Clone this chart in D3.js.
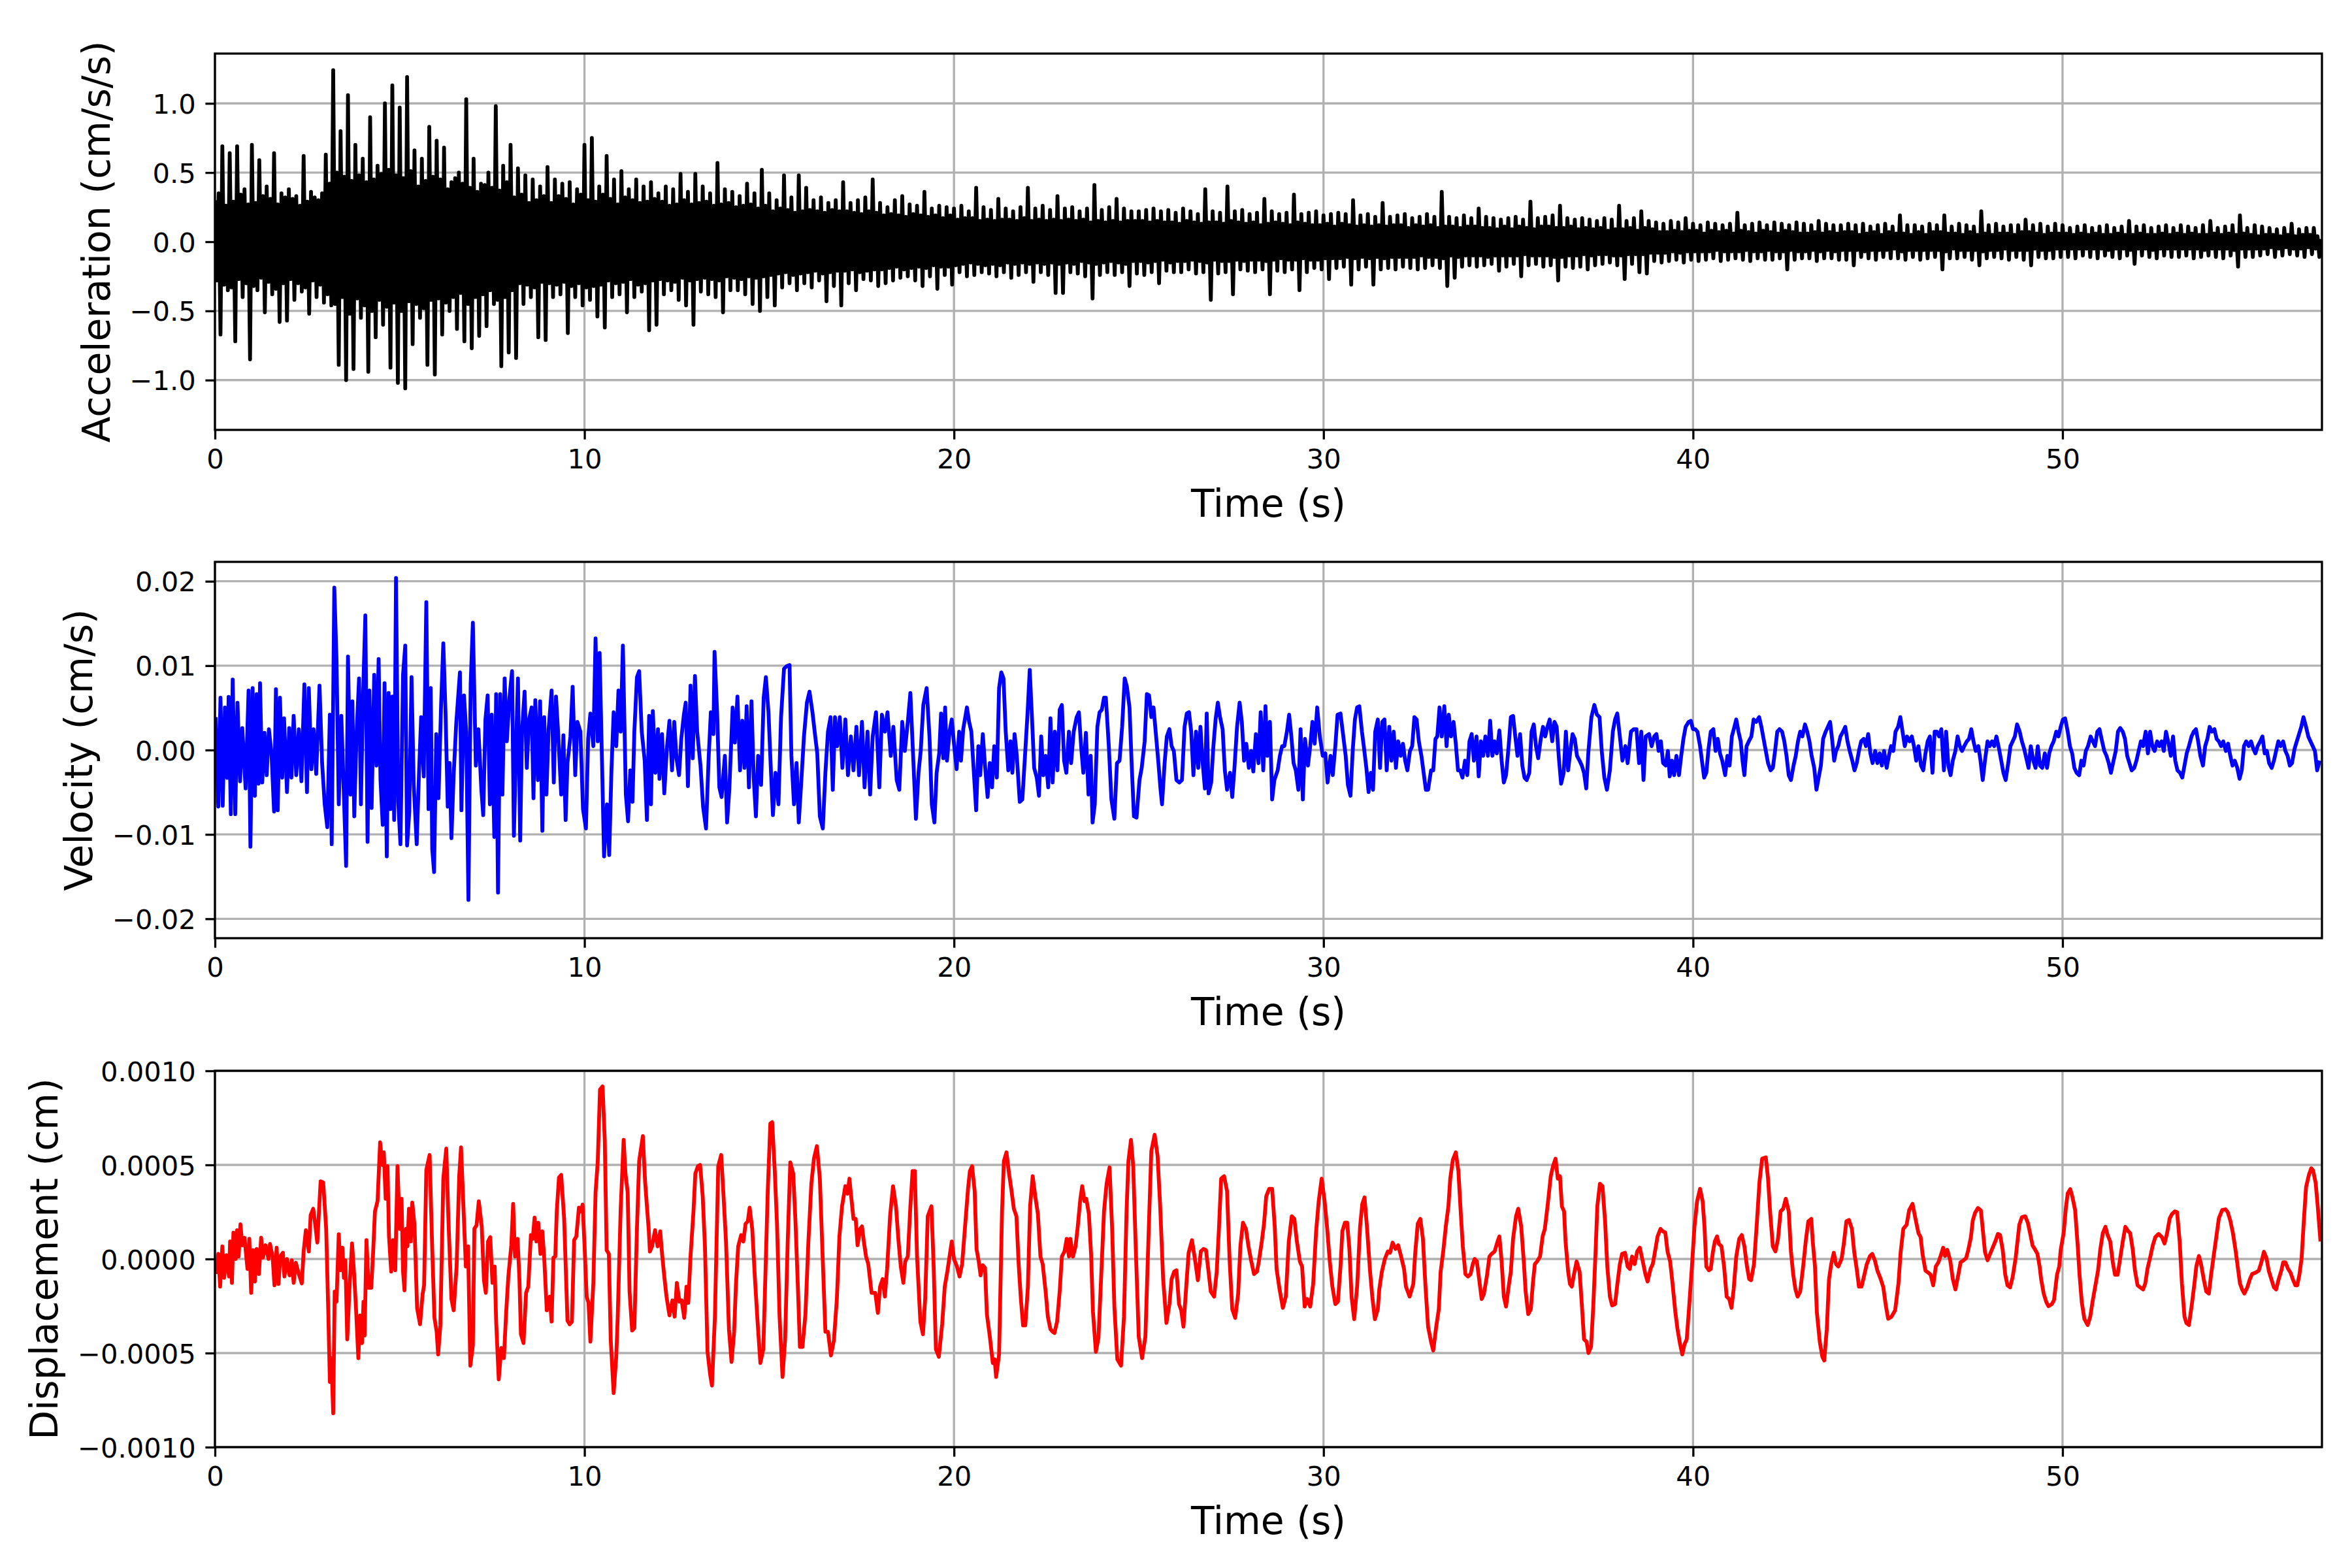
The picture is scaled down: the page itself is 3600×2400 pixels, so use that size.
<!DOCTYPE html>
<html>
<head>
<meta charset="utf-8">
<script src="https://cdn.jsdelivr.net/npm/d3@7"></script>
<style>
  body { margin: 0; background: #fff; }
  svg { display: block; }
</style>
</head>
<body>
<div id="chart"></div>
<script>
// time axis
const timeTicks = [0, 10, 20, 30, 40, 50];
const timeMax = 57.02;

// acceleration (cm/s/s), every 0.05 s (one row = 1 s)
const accDt = 0.05;
const accValues = [
  0.30,-0.28,0.35,-0.67,0.69,-0.31,0.26,-0.35,0.64,-0.33,0.29,-0.72,0.69,-0.27,0.34,-0.40,0.38,-0.30,0.27,-0.85,
  0.70,-0.32,0.28,-0.35,0.59,-0.26,0.33,-0.51,0.40,-0.29,0.31,-0.38,0.64,-0.34,0.27,-0.58,0.35,-0.30,0.32,-0.57,
  0.38,-0.27,0.31,-0.42,0.33,-0.30,0.26,-0.36,0.62,-0.33,0.29,-0.52,0.36,-0.28,0.32,-0.40,0.30,-0.31,0.35,-0.44,
  0.63,-0.38,0.42,-0.46,1.24,-0.45,0.50,-0.89,0.80,-0.40,0.47,-1.00,1.06,-0.52,0.44,-0.92,0.70,-0.41,0.48,-0.55,
  0.60,-0.46,0.43,-0.94,0.90,-0.50,0.45,-0.69,0.55,-0.42,0.49,-0.60,1.00,-0.47,0.52,-0.91,1.13,-0.44,0.48,-1.02,
  0.97,-0.50,0.46,-1.06,1.19,-0.43,0.51,-0.74,0.66,-0.45,0.40,-0.55,0.60,-0.48,0.44,-0.89,0.83,-0.42,0.47,-0.96,
  0.73,-0.41,0.45,-0.67,0.68,-0.44,0.38,-0.50,0.43,-0.40,0.46,-0.63,0.50,-0.37,0.42,-0.72,1.03,-0.45,0.39,-0.77,
  0.60,-0.40,0.36,-0.68,0.42,-0.38,0.41,-0.61,0.50,-0.35,0.39,-0.45,0.98,-0.42,0.37,-0.90,0.55,-0.40,0.43,-0.80,
  0.70,-0.35,0.32,-0.84,0.53,-0.30,0.34,-0.45,0.48,-0.31,0.28,-0.40,0.45,-0.33,0.30,-0.69,0.40,-0.29,0.33,-0.71,
  0.54,-0.30,0.28,-0.40,0.45,-0.31,0.33,-0.38,0.42,-0.29,0.31,-0.66,0.43,-0.32,0.27,-0.40,0.38,-0.30,0.34,-0.46,
  0.70,-0.33,0.30,-0.42,0.75,-0.32,0.29,-0.54,0.40,-0.31,0.34,-0.62,0.62,-0.28,0.31,-0.40,0.45,-0.30,0.27,-0.38,
  0.51,-0.29,0.32,-0.51,0.38,-0.27,0.30,-0.40,0.45,-0.31,0.28,-0.36,0.40,-0.30,0.29,-0.64,0.43,-0.28,0.31,-0.60,
  0.35,-0.27,0.29,-0.38,0.40,-0.28,0.26,-0.35,0.38,-0.29,0.27,-0.42,0.49,-0.26,0.30,-0.46,0.36,-0.28,0.27,-0.60,
  0.49,-0.27,0.28,-0.36,0.40,-0.26,0.29,-0.38,0.35,-0.27,0.26,-0.40,0.57,-0.28,0.27,-0.51,0.38,-0.25,0.28,-0.35,
  0.36,-0.26,0.25,-0.35,0.33,-0.27,0.26,-0.38,0.42,-0.25,0.27,-0.45,0.35,-0.26,0.24,-0.50,0.52,-0.25,0.26,-0.40,
  0.35,-0.24,0.22,-0.46,0.30,-0.23,0.24,-0.33,0.48,-0.22,0.23,-0.30,0.32,-0.24,0.21,-0.35,0.48,-0.23,0.22,-0.30,
  0.39,-0.22,0.23,-0.33,0.30,-0.21,0.22,-0.28,0.32,-0.23,0.21,-0.43,0.28,-0.22,0.23,-0.32,0.30,-0.21,0.22,-0.46,
  0.43,-0.21,0.22,-0.30,0.28,-0.20,0.21,-0.35,0.30,-0.22,0.20,-0.27,0.32,-0.21,0.22,-0.28,0.45,-0.20,0.21,-0.32,
  0.28,-0.20,0.19,-0.30,0.25,-0.19,0.20,-0.28,0.30,-0.18,0.19,-0.26,0.33,-0.20,0.18,-0.25,0.27,-0.19,0.20,-0.28,
  0.26,-0.18,0.19,-0.32,0.36,-0.19,0.18,-0.25,0.24,-0.17,0.19,-0.34,0.26,-0.18,0.17,-0.24,0.25,-0.18,0.19,-0.31,
  0.24,-0.17,0.16,-0.22,0.26,-0.16,0.17,-0.25,0.22,-0.15,0.17,-0.24,0.39,-0.16,0.15,-0.22,0.25,-0.17,0.16,-0.23,
  0.23,-0.16,0.15,-0.25,0.31,-0.17,0.16,-0.22,0.24,-0.15,0.16,-0.26,0.22,-0.16,0.15,-0.24,0.25,-0.15,0.17,-0.22,
  0.39,-0.16,0.15,-0.29,0.24,-0.15,0.16,-0.22,0.26,-0.16,0.15,-0.24,0.23,-0.15,0.16,-0.37,0.33,-0.16,0.15,-0.37,
  0.24,-0.15,0.16,-0.22,0.25,-0.16,0.15,-0.23,0.22,-0.14,0.16,-0.25,0.24,-0.15,0.14,-0.41,0.41,-0.16,0.15,-0.24,
  0.23,-0.15,0.14,-0.22,0.25,-0.14,0.15,-0.24,0.31,-0.15,0.14,-0.22,0.24,-0.16,0.15,-0.32,0.22,-0.14,0.15,-0.23,
  0.22,-0.14,0.15,-0.24,0.23,-0.15,0.14,-0.22,0.24,-0.14,0.15,-0.30,0.22,-0.13,0.14,-0.21,0.23,-0.15,0.14,-0.22,
  0.21,-0.14,0.13,-0.22,0.24,-0.14,0.15,-0.20,0.22,-0.13,0.14,-0.23,0.20,-0.14,0.13,-0.22,0.38,-0.15,0.14,-0.42,
  0.22,-0.13,0.14,-0.23,0.21,-0.14,0.13,-0.22,0.40,-0.14,0.15,-0.38,0.22,-0.13,0.14,-0.20,0.23,-0.14,0.13,-0.21,
  0.20,-0.13,0.14,-0.22,0.21,-0.13,0.12,-0.20,0.31,-0.14,0.13,-0.38,0.22,-0.13,0.14,-0.21,0.20,-0.12,0.13,-0.22,
  0.21,-0.13,0.12,-0.20,0.34,-0.13,0.14,-0.35,0.20,-0.12,0.13,-0.22,0.21,-0.13,0.12,-0.19,0.22,-0.13,0.12,-0.20,
  0.19,-0.12,0.13,-0.27,0.20,-0.12,0.11,-0.19,0.21,-0.12,0.13,-0.18,0.20,-0.11,0.12,-0.31,0.30,-0.12,0.11,-0.20,
  0.19,-0.11,0.12,-0.18,0.20,-0.12,0.11,-0.31,0.18,-0.11,0.12,-0.20,0.28,-0.12,0.11,-0.19,0.18,-0.11,0.12,-0.20,
  0.19,-0.11,0.12,-0.18,0.20,-0.11,0.10,-0.19,0.17,-0.11,0.12,-0.20,0.18,-0.10,0.11,-0.19,0.20,-0.11,0.12,-0.17,
  0.18,-0.11,0.10,-0.19,0.36,-0.12,0.11,-0.32,0.18,-0.10,0.11,-0.26,0.17,-0.11,0.10,-0.18,0.19,-0.10,0.11,-0.17,
  0.17,-0.10,0.11,-0.18,0.24,-0.10,0.10,-0.17,0.18,-0.11,0.10,-0.16,0.17,-0.10,0.09,-0.21,0.16,-0.10,0.11,-0.18,
  0.17,-0.10,0.09,-0.16,0.18,-0.10,0.11,-0.25,0.16,-0.09,0.10,-0.17,0.29,-0.10,0.09,-0.16,0.17,-0.10,0.11,-0.18,
  0.18,-0.10,0.11,-0.17,0.19,-0.11,0.10,-0.28,0.26,-0.11,0.10,-0.18,0.17,-0.10,0.11,-0.19,0.16,-0.10,0.09,-0.18,
  0.17,-0.09,0.10,-0.20,0.16,-0.10,0.09,-0.17,0.15,-0.09,0.10,-0.16,0.17,-0.09,0.08,-0.15,0.16,-0.10,0.09,-0.17,
  0.26,-0.10,0.09,-0.27,0.15,-0.09,0.10,-0.16,0.17,-0.09,0.08,-0.22,0.22,-0.09,0.10,-0.23,0.15,-0.08,0.09,-0.14,
  0.14,-0.08,0.07,-0.15,0.13,-0.08,0.07,-0.14,0.15,-0.07,0.08,-0.13,0.14,-0.08,0.07,-0.15,0.17,-0.07,0.08,-0.13,
  0.13,-0.07,0.08,-0.14,0.12,-0.07,0.06,-0.13,0.14,-0.07,0.08,-0.12,0.13,-0.06,0.07,-0.14,0.12,-0.07,0.08,-0.13,
  0.13,-0.07,0.06,-0.12,0.21,-0.07,0.08,-0.13,0.12,-0.06,0.07,-0.14,0.13,-0.07,0.06,-0.12,0.14,-0.07,0.08,-0.13,
  0.12,-0.06,0.07,-0.13,0.14,-0.07,0.06,-0.12,0.13,-0.07,0.08,-0.20,0.12,-0.06,0.07,-0.13,0.14,-0.07,0.06,-0.12,
  0.13,-0.07,0.06,-0.12,0.12,-0.06,0.07,-0.14,0.15,-0.07,0.06,-0.12,0.13,-0.06,0.07,-0.12,0.12,-0.07,0.06,-0.13,
  0.12,-0.06,0.07,-0.13,0.13,-0.06,0.07,-0.17,0.12,-0.06,0.05,-0.11,0.13,-0.07,0.06,-0.12,0.11,-0.06,0.07,-0.13,
  0.12,-0.06,0.05,-0.11,0.13,-0.06,0.07,-0.12,0.11,-0.05,0.06,-0.12,0.19,-0.07,0.06,-0.13,0.12,-0.06,0.05,-0.11,
  0.12,-0.06,0.07,-0.13,0.11,-0.06,0.05,-0.12,0.13,-0.06,0.07,-0.11,0.12,-0.06,0.07,-0.20,0.19,-0.07,0.06,-0.12,
  0.11,-0.05,0.06,-0.12,0.13,-0.06,0.05,-0.11,0.12,-0.06,0.07,-0.13,0.11,-0.06,0.05,-0.17,0.22,-0.07,0.06,-0.12,
  0.12,-0.06,0.05,-0.11,0.13,-0.06,0.06,-0.12,0.11,-0.05,0.06,-0.13,0.12,-0.06,0.05,-0.11,0.12,-0.06,0.07,-0.13,
  0.16,-0.06,0.07,-0.17,0.12,-0.05,0.06,-0.11,0.13,-0.06,0.05,-0.12,0.11,-0.06,0.06,-0.12,0.13,-0.05,0.06,-0.11,
  0.12,-0.05,0.06,-0.11,0.10,-0.05,0.05,-0.12,0.11,-0.05,0.06,-0.10,0.12,-0.05,0.05,-0.11,0.10,-0.05,0.06,-0.12,
  0.11,-0.05,0.05,-0.10,0.12,-0.06,0.05,-0.11,0.10,-0.05,0.06,-0.12,0.11,-0.05,0.05,-0.10,0.15,-0.06,0.05,-0.16,
  0.11,-0.05,0.06,-0.10,0.12,-0.05,0.05,-0.11,0.10,-0.06,0.05,-0.12,0.11,-0.05,0.06,-0.10,0.12,-0.05,0.05,-0.11,
  0.10,-0.05,0.06,-0.11,0.12,-0.05,0.05,-0.10,0.11,-0.05,0.06,-0.12,0.10,-0.05,0.05,-0.11,0.12,-0.06,0.05,-0.10,
  0.15,-0.05,0.06,-0.11,0.10,-0.05,0.05,-0.12,0.11,-0.05,0.06,-0.10,0.12,-0.06,0.05,-0.18,0.19,-0.05,0.06,-0.11,
  0.10,-0.05,0.05,-0.11,0.12,-0.05,0.04,-0.10,0.11,-0.05,0.05,-0.09,0.10,-0.04,0.05,-0.11,0.09,-0.05,0.04,-0.10,
  0.10,-0.04,0.05,-0.09,0.13,-0.05,0.04,-0.10,0.09,-0.05,0.05,-0.11,0.10,-0.04,0.05,-0.09,0.10,-0.05,0.04,-0.11,
  0.02
];
const accTicks = [-1.0, -0.5, 0.0, 0.5, 1.0];
const accLimit = 1.36;

// velocity (cm/s), [time, value] at the turning points
const velPoints = [
  [0.02,3.9e-3],[0.09,-6.7e-3],[0.15,6.2e-3],[0.21,-6.6e-3],[0.27,5.05e-3],[0.33,-3.3e-3],[0.37,6.3e-3],[0.43,-7.6e-3],
  [0.48,8.35e-3],[0.55,-7.6e-3],[0.61,5.6e-3],[0.68,-3.7e-3],[0.74,2.6e-3],[0.83,-4.56e-3],[0.91,7.06e-3],[0.96,-11.45e-3],
  [1.02,7.35e-3],[1.08,-5.42e-3],[1.13,6.63e-3],[1.18,-3.99e-3],[1.22,7.92e-3],[1.28,-3.85e-3],[1.34,2.04e-3],[1.4,-2.98e-3],
  [1.46,2.47e-3],[1.53,-0.4e-3],[1.6,-7.29e-3],[1.65,7.2e-3],[1.7,-7.14e-3],[1.76,6.2e-3],[1.82,-3.27e-3],[1.87,3.76e-3],
  [1.95,-4.99e-3],[2.01,2.61e-3],[2.07,-3.27e-3],[2.13,4.05e-3],[2.2,-2.98e-3],[2.27,2.47e-3],[2.34,-3.7e-3],[2.42,7.78e-3],
  [2.49,-4.99e-3],[2.54,7.35e-3],[2.61,-2.27e-3],[2.67,2.47e-3],[2.74,-2.84e-3],[2.83,7.63e-3],[2.9,-1.55e-3],[2.97,-6.43e-3],
  [3.04,-9.15e-3],[3.11,4.19e-3],[3.16,-11.16e-3],[3.23,19.25e-3],[3.29,10.79e-3],[3.35,-6.43e-3],[3.42,4.05e-3],[3.49,-5.42e-3],
  [3.55,-13.74e-3],[3.6,11.08e-3],[3.67,-5.28e-3],[3.72,5.77e-3],[3.77,-7.86e-3],[3.83,1.61e-3],[3.9,8.49e-3],[3.95,-6.43e-3],
  [4.01,6.77e-3],[4.07,15.95e-3],[4.13,-10.88e-3],[4.18,7.06e-3],[4.24,-6.86e-3],[4.31,8.92e-3],[4.37,-1.84e-3],[4.43,10.79e-3],
  [4.48,-3.56e-3],[4.54,-8.87e-3],[4.59,7.92e-3],[4.65,-12.6e-3],[4.7,6.77e-3],[4.75,-7.0e-3],[4.8,6.34e-3],[4.85,-8.29e-3],
  [4.9,20.4e-3],[4.96,-6.14e-3],[5.02,-11.16e-3],[5.09,8.92e-3],[5.15,12.37e-3],[5.2,-11.31e-3],[5.26,-7.29e-3],[5.32,8.64e-3],
  [5.38,-4.13e-3],[5.46,-11.16e-3],[5.52,-2.98e-3],[5.58,3.9e-3],[5.65,-3.13e-3],[5.72,17.53e-3],[5.78,-7.0e-3],[5.84,7.35e-3],
  [5.88,-11.74e-3],[5.93,-14.46e-3],[5.99,1.89e-3],[6.05,-5.71e-3],[6.12,5.34e-3],[6.18,12.65e-3],[6.24,4.48e-3],[6.3,-6.71e-3],
  [6.35,-1.55e-3],[6.4,-10.44e-3],[6.46,-2.98e-3],[6.53,3.19e-3],[6.58,6.2e-3],[6.63,9.21e-3],[6.67,-7.14e-3],[6.74,6.48e-3],
  [6.8,2.18e-3],[6.86,-17.76e-3],[6.92,7.78e-3],[6.98,15.09e-3],[7.06,-1.84e-3],[7.13,2.47e-3],[7.21,-4.71e-3],[7.26,-7.72e-3],
  [7.32,3.62e-3],[7.38,6.48e-3],[7.44,-6.43e-3],[7.49,4.19e-3],[7.56,-10.3e-3],[7.61,6.63e-3],[7.66,-16.9e-3],[7.72,6.63e-3],
  [7.78,-5.28e-3],[7.84,8.49e-3],[7.9,1.03e-3],[7.97,6.2e-3],[8.04,9.35e-3],[8.09,-10.16e-3],[8.15,0.46e-3],[8.2,8.49e-3],
  [8.26,-10.73e-3],[8.31,2.18e-3],[8.38,6.92e-3],[8.44,-2.12e-3],[8.5,3.62e-3],[8.57,5.05e-3],[8.62,-5.71e-3],[8.67,5.91e-3],
  [8.74,-3.56e-3],[8.8,5.77e-3],[8.86,-9.58e-3],[8.91,3.9e-3],[8.97,-5.28e-3],[9.03,2.47e-3],[9.11,7.06e-3],[9.17,-3.85e-3],
  [9.23,6.34e-3],[9.29,1.89e-3],[9.37,-5.28e-3],[9.43,1.75e-3],[9.49,-8.29e-3],[9.54,-1.55e-3],[9.62,1.61e-3],[9.68,7.49e-3],
  [9.75,-2.98e-3],[9.81,3.33e-3],[9.89,2.18e-3],[9.96,-7.0e-3],[10.04,-9.3e-3],[10.1,1.32e-3],[10.16,4.33e-3],[10.24,0.46e-3],
  [10.3,13.23e-3],[10.36,1.03e-3],[10.41,11.51e-3],[10.47,-0.4e-3],[10.53,-12.6e-3],[10.61,-6.43e-3],[10.67,-12.45e-3],[10.73,-2.41e-3],
  [10.79,4.48e-3],[10.86,0.46e-3],[10.92,7.06e-3],[10.98,2.18e-3],[11.04,12.37e-3],[11.12,-5.28e-3],[11.18,-8.44e-3],[11.24,-2.41e-3],
  [11.3,-6.14e-3],[11.35,2.18e-3],[11.42,8.64e-3],[11.48,9.35e-3],[11.55,2.18e-3],[11.63,-1.26e-3],[11.69,-8.29e-3],[11.75,4.05e-3],
  [11.8,-6.43e-3],[11.85,4.62e-3],[11.92,-2.7e-3],[11.99,2.47e-3],[12.03,-3.41e-3],[12.1,1.89e-3],[12.16,-5.14e-3],[12.23,0.17e-3],
  [12.3,3.47e-3],[12.37,-2.41e-3],[12.43,3.33e-3],[12.49,-0.98e-3],[12.56,-2.98e-3],[12.62,1.32e-3],[12.69,4.19e-3],[12.74,5.62e-3],
  [12.8,-4.28e-3],[12.87,7.63e-3],[12.93,-0.98e-3],[12.99,8.78e-3],[13.05,2.18e-3],[13.14,-1.84e-3],[13.21,-6.71e-3],[13.29,-9.3e-3],
  [13.36,-0.98e-3],[13.42,4.48e-3],[13.49,1.89e-3],[13.52,11.65e-3],[13.59,4.48e-3],[13.65,-4.42e-3],[13.71,-5.57e-3],[13.8,-0.69e-3],
  [13.86,-8.58e-3],[13.92,-4.71e-3],[14.01,5.05e-3],[14.07,0.89e-3],[14.14,6.34e-3],[14.21,-2.41e-3],[14.27,3.47e-3],[14.33,-2.12e-3],
  [14.39,5.19e-3],[14.45,-4.42e-3],[14.52,5.77e-3],[14.58,-3.27e-3],[14.64,-7.86e-3],[14.7,-0.69e-3],[14.78,-4.13e-3],[14.85,6.2e-3],
  [14.91,8.64e-3],[14.98,4.48e-3],[15.04,-1.84e-3],[15.1,-7.72e-3],[15.17,-2.7e-3],[15.25,-6.43e-3],[15.32,3.9e-3],[15.4,9.64e-3],
  [15.47,9.93e-3],[15.55,10.07e-3],[15.6,-0.69e-3],[15.67,-6.43e-3],[15.74,-1.55e-3],[15.8,-8.58e-3],[15.87,-3.56e-3],[15.94,1.61e-3],
  [16.02,5.62e-3],[16.09,6.92e-3],[16.17,4.48e-3],[16.23,2.18e-3],[16.3,-0.4e-3],[16.37,-7.86e-3],[16.45,-9.3e-3],[16.52,-2.7e-3],
  [16.59,2.18e-3],[16.66,3.9e-3],[16.72,-4.71e-3],[16.78,3.9e-3],[16.84,0.46e-3],[16.91,3.9e-3],[16.98,-2.12e-3],[17.06,3.62e-3],
  [17.13,-2.98e-3],[17.21,1.61e-3],[17.28,-2.41e-3],[17.36,2.75e-3],[17.43,-2.98e-3],[17.51,3.33e-3],[17.58,-4.42e-3],[17.66,2.18e-3],
  [17.73,-5.28e-3],[17.8,1.61e-3],[17.89,4.48e-3],[17.98,-4.42e-3],[18.05,4.19e-3],[18.13,2.18e-3],[18.2,4.48e-3],[18.29,-0.69e-3],
  [18.36,2.75e-3],[18.45,-3.56e-3],[18.52,-4.71e-3],[18.6,3.33e-3],[18.67,-0.11e-3],[18.75,3.33e-3],[18.82,6.77e-3],[18.9,-1.26e-3],
  [18.97,-8.15e-3],[19.04,-2.7e-3],[19.1,-0.11e-3],[19.17,5.34e-3],[19.26,7.35e-3],[19.34,1.32e-3],[19.4,-6.43e-3],[19.47,-8.58e-3],
  [19.53,-2.7e-3],[19.6,-0.4e-3],[19.65,4.33e-3],[19.71,-0.98e-3],[19.76,5.05e-3],[19.81,-1.26e-3],[19.88,2.18e-3],[19.94,3.62e-3],
  [20.0,0.75e-3],[20.07,-2.27e-3],[20.14,2.18e-3],[20.19,-1.26e-3],[20.25,2.47e-3],[20.35,5.05e-3],[20.41,3.33e-3],[20.47,2.18e-3],
  [20.53,-2.12e-3],[20.6,-7.14e-3],[20.66,0.46e-3],[20.71,-2.98e-3],[20.78,1.89e-3],[20.84,-1.84e-3],[20.91,-5.57e-3],[20.97,-1.55e-3],
  [21.03,-4.42e-3],[21.09,0.46e-3],[21.16,-3.27e-3],[21.22,7.35e-3],[21.28,9.21e-3],[21.34,8.49e-3],[21.4,2.18e-3],[21.47,-2.41e-3],
  [21.53,1.03e-3],[21.58,-2.7e-3],[21.64,1.89e-3],[21.7,-0.69e-3],[21.78,-6.14e-3],[21.85,-5.85e-3],[21.93,-0.11e-3],[21.99,4.33e-3],
  [22.05,9.5e-3],[22.11,3.9e-3],[22.17,-2.12e-3],[22.24,-3.27e-3],[22.3,-5.42e-3],[22.36,1.61e-3],[22.42,-2.98e-3],[22.48,-0.69e-3],
  [22.55,-4.42e-3],[22.61,3.76e-3],[22.67,-3.85e-3],[22.73,2.18e-3],[22.8,-2.41e-3],[22.86,4.76e-3],[22.92,5.34e-3],[22.98,-1.26e-3],
  [23.04,-2.7e-3],[23.11,2.18e-3],[23.17,-1.55e-3],[23.24,2.18e-3],[23.32,3.9e-3],[23.38,4.48e-3],[23.44,0.46e-3],[23.5,-2.7e-3],
  [23.57,2.04e-3],[23.64,-5.28e-3],[23.7,-0.69e-3],[23.75,-8.58e-3],[23.81,-6.43e-3],[23.88,2.75e-3],[23.94,4.48e-3],[24.0,4.76e-3],
  [24.06,6.2e-3],[24.11,6.2e-3],[24.19,0.46e-3],[24.26,-5.85e-3],[24.34,-8.15e-3],[24.41,-1.55e-3],[24.48,-1.26e-3],[24.55,2.75e-3],
  [24.62,8.49e-3],[24.68,7.49e-3],[24.75,5.05e-3],[24.81,-1.84e-3],[24.87,-7.86e-3],[24.94,-8.01e-3],[25.02,-3.56e-3],[25.08,-2.12e-3],
  [25.16,1.03e-3],[25.22,6.63e-3],[25.28,6.48e-3],[25.34,3.9e-3],[25.4,5.05e-3],[25.47,1.61e-3],[25.53,-1.41e-3],[25.59,-4.71e-3],
  [25.63,-6.43e-3],[25.7,-1.55e-3],[25.76,1.61e-3],[25.83,2.47e-3],[25.89,0.46e-3],[25.95,-0.11e-3],[26.02,-3.56e-3],[26.1,-3.85e-3],
  [26.17,-3.56e-3],[26.24,2.75e-3],[26.3,4.33e-3],[26.36,4.48e-3],[26.42,2.18e-3],[26.48,-2.98e-3],[26.55,2.18e-3],[26.61,-2.12e-3],
  [26.67,2.75e-3],[26.73,-1.55e-3],[26.79,-4.56e-3],[26.84,4.33e-3],[26.89,-5.14e-3],[26.96,-3.85e-3],[27.02,0.46e-3],[27.08,3.62e-3],
  [27.14,5.62e-3],[27.2,3.9e-3],[27.27,2.47e-3],[27.33,-2.41e-3],[27.39,-4.71e-3],[27.47,-2.7e-3],[27.53,-5.57e-3],[27.59,-2.12e-3],
  [27.66,2.75e-3],[27.73,5.62e-3],[27.79,3.33e-3],[27.85,-1.26e-3],[27.91,0.75e-3],[27.98,-2.12e-3],[28.04,-0.11e-3],[28.1,-2.55e-3],
  [28.17,1.89e-3],[28.24,-1.55e-3],[28.3,4.48e-3],[28.37,-2.41e-3],[28.43,5.19e-3],[28.48,-0.69e-3],[28.55,3.33e-3],[28.61,-5.85e-3],
  [28.67,-3.56e-3],[28.76,-2.41e-3],[28.82,-0.69e-3],[28.88,0.46e-3],[28.94,0.46e-3],[29.01,2.18e-3],[29.07,4.19e-3],[29.13,1.61e-3],
  [29.19,-1.55e-3],[29.25,-2.41e-3],[29.32,-4.71e-3],[29.38,2.47e-3],[29.44,-5.85e-3],[29.5,1.32e-3],[29.58,-1.84e-3],[29.64,0.46e-3],
  [29.7,3.33e-3],[29.76,0.75e-3],[29.83,5.05e-3],[29.9,1.61e-3],[29.98,-0.69e-3],[30.05,-0.4e-3],[30.11,-3.85e-3],[30.19,-0.69e-3],
  [30.25,-2.98e-3],[30.32,0.46e-3],[30.38,4.19e-3],[30.46,4.33e-3],[30.52,2.18e-3],[30.6,-0.69e-3],[30.66,-4.13e-3],[30.73,-5.42e-3],
  [30.79,-0.11e-3],[30.85,3.62e-3],[30.91,5.05e-3],[30.97,5.19e-3],[31.04,2.18e-3],[31.09,0.46e-3],[31.16,-2.12e-3],[31.22,-4.99e-3],
  [31.28,-2.7e-3],[31.34,-4.71e-3],[31.4,2.18e-3],[31.47,3.62e-3],[31.53,-2.12e-3],[31.59,3.33e-3],[31.65,3.62e-3],[31.71,-2.41e-3],
  [31.78,2.75e-3],[31.84,-1.26e-3],[31.9,2.18e-3],[31.96,-2.12e-3],[32.02,1.03e-3],[32.09,-0.69e-3],[32.15,0.75e-3],[32.21,-1.26e-3],
  [32.27,-2.41e-3],[32.34,-0.11e-3],[32.4,0.46e-3],[32.46,3.9e-3],[32.52,3.62e-3],[32.58,1.03e-3],[32.65,-0.69e-3],[32.71,-2.7e-3],
  [32.77,-4.71e-3],[32.83,-4.71e-3],[32.91,-2.41e-3],[32.97,-2.41e-3],[33.03,1.32e-3],[33.08,1.61e-3],[33.14,5.05e-3],[33.2,1.61e-3],
  [33.27,5.19e-3],[33.33,0.46e-3],[33.39,4.19e-3],[33.45,1.61e-3],[33.52,3.33e-3],[33.58,0.75e-3],[33.64,-2.41e-3],[33.7,-2.41e-3],
  [33.76,-3.27e-3],[33.83,-1.26e-3],[33.89,-2.98e-3],[33.95,1.03e-3],[34.01,1.89e-3],[34.07,-1.26e-3],[34.14,1.61e-3],[34.2,-3.13e-3],
  [34.26,1.03e-3],[34.32,-0.69e-3],[34.38,1.61e-3],[34.45,-0.69e-3],[34.51,3.47e-3],[34.57,-0.69e-3],[34.63,1.03e-3],[34.69,-0.4e-3],
  [34.76,2.32e-3],[34.82,-1.26e-3],[34.88,-3.85e-3],[34.94,-2.98e-3],[35.01,0.46e-3],[35.07,3.9e-3],[35.13,4.05e-3],[35.19,1.61e-3],
  [35.25,-0.69e-3],[35.32,1.89e-3],[35.38,-1.84e-3],[35.44,-3.27e-3],[35.5,-3.56e-3],[35.57,-2.7e-3],[35.63,2.18e-3],[35.69,3.04e-3],
  [35.75,0.46e-3],[35.81,-0.98e-3],[35.88,1.32e-3],[35.94,2.75e-3],[36.0,1.61e-3],[36.06,2.75e-3],[36.12,3.62e-3],[36.19,1.03e-3],
  [36.25,3.33e-3],[36.31,2.75e-3],[36.37,-0.98e-3],[36.43,-3.99e-3],[36.5,-2.7e-3],[36.56,2.18e-3],[36.62,-2.41e-3],[36.68,-0.11e-3],
  [36.74,1.89e-3],[36.8,1.32e-3],[36.86,-0.69e-3],[36.93,-1.26e-3],[36.99,-1.84e-3],[37.05,-2.7e-3],[37.11,-4.56e-3],[37.17,-0.11e-3],
  [37.25,3.9e-3],[37.33,5.34e-3],[37.4,4.19e-3],[37.47,3.9e-3],[37.53,-0.11e-3],[37.6,-3.27e-3],[37.67,-4.71e-3],[37.75,-2.41e-3],
  [37.83,2.18e-3],[37.89,3.62e-3],[37.95,4.33e-3],[38.02,1.61e-3],[38.09,-1.26e-3],[38.17,0.46e-3],[38.23,-1.55e-3],[38.32,2.18e-3],
  [38.4,2.47e-3],[38.47,2.47e-3],[38.54,-1.55e-3],[38.6,2.18e-3],[38.66,-3.56e-3],[38.72,1.61e-3],[38.81,1.89e-3],[38.88,0.46e-3],
  [38.95,1.61e-3],[39.01,1.89e-3],[39.07,-0.11e-3],[39.13,1.03e-3],[39.19,-1.55e-3],[39.26,-1.84e-3],[39.32,-0.11e-3],[39.37,-3.13e-3],
  [39.43,-1.26e-3],[39.49,-2.98e-3],[39.55,-0.69e-3],[39.62,-2.98e-3],[39.68,-0.69e-3],[39.74,1.32e-3],[39.8,2.75e-3],[39.88,3.33e-3],
  [39.94,3.47e-3],[40.0,2.47e-3],[40.06,2.47e-3],[40.12,2.18e-3],[40.19,0.46e-3],[40.25,-1.55e-3],[40.3,-3.27e-3],[40.36,-2.7e-3],
  [40.42,0.17e-3],[40.48,2.18e-3],[40.55,2.47e-3],[40.61,-0.11e-3],[40.67,1.32e-3],[40.73,-0.4e-3],[40.79,-1.26e-3],[40.87,-2.98e-3],
  [40.93,-0.69e-3],[40.99,-1.84e-3],[41.05,1.61e-3],[41.12,2.75e-3],[41.17,3.62e-3],[41.23,2.18e-3],[41.29,1.03e-3],[41.34,-1.26e-3],
  [41.39,-2.98e-3],[41.45,0.46e-3],[41.51,1.03e-3],[41.58,1.61e-3],[41.64,3.62e-3],[41.71,3.33e-3],[41.79,3.9e-3],[41.85,2.75e-3],
  [41.91,1.32e-3],[41.97,-0.11e-3],[42.03,-1.55e-3],[42.1,-2.41e-3],[42.16,-2.12e-3],[42.22,-0.11e-3],[42.28,2.18e-3],[42.34,2.47e-3],
  [42.41,2.18e-3],[42.47,1.03e-3],[42.53,-0.69e-3],[42.59,-2.98e-3],[42.65,-3.56e-3],[42.72,-1.84e-3],[42.78,-0.69e-3],[42.84,1.03e-3],
  [42.9,2.18e-3],[42.96,1.61e-3],[43.03,3.04e-3],[43.09,2.18e-3],[43.15,1.03e-3],[43.21,-0.69e-3],[43.28,-2.12e-3],[43.34,-4.71e-3],
  [43.4,-3.27e-3],[43.46,-1.84e-3],[43.52,1.32e-3],[43.59,2.18e-3],[43.65,2.75e-3],[43.71,3.33e-3],[43.77,1.03e-3],[43.82,-1.26e-3],
  [43.87,-0.11e-3],[43.93,0.46e-3],[43.99,1.61e-3],[44.06,2.18e-3],[44.12,2.75e-3],[44.18,1.03e-3],[44.24,-0.11e-3],[44.31,-1.26e-3],
  [44.37,-2.41e-3],[44.43,-1.55e-3],[44.49,-0.11e-3],[44.55,1.03e-3],[44.62,1.32e-3],[44.68,0.46e-3],[44.74,1.89e-3],[44.8,-0.4e-3],
  [44.86,-1.55e-3],[44.93,-0.11e-3],[44.99,-1.55e-3],[45.05,-0.4e-3],[45.11,-1.84e-3],[45.17,-0.11e-3],[45.24,-2.12e-3],[45.3,-0.69e-3],
  [45.36,0.46e-3],[45.42,-0.11e-3],[45.48,2.18e-3],[45.55,2.75e-3],[45.61,3.9e-3],[45.67,2.18e-3],[45.73,0.46e-3],[45.79,1.61e-3],
  [45.86,1.03e-3],[45.92,1.61e-3],[45.98,0.46e-3],[46.04,-1.26e-3],[46.1,0.46e-3],[46.17,-1.84e-3],[46.23,-2.41e-3],[46.29,-0.4e-3],
  [46.35,1.03e-3],[46.41,1.61e-3],[46.48,-2.7e-3],[46.54,2.18e-3],[46.6,2.18e-3],[46.66,1.61e-3],[46.72,2.47e-3],[46.79,-2.41e-3],
  [46.85,2.18e-3],[46.91,-1.84e-3],[46.97,-2.98e-3],[47.03,-1.26e-3],[47.1,-0.11e-3],[47.16,1.61e-3],[47.22,0.46e-3],[47.28,-0.11e-3],
  [47.34,0.46e-3],[47.41,1.03e-3],[47.47,1.32e-3],[47.53,2.47e-3],[47.59,1.03e-3],[47.65,-0.11e-3],[47.72,0.46e-3],[47.78,-1.26e-3],
  [47.84,-3.56e-3],[47.9,-1.26e-3],[47.97,1.03e-3],[48.03,0.46e-3],[48.09,1.03e-3],[48.15,0.46e-3],[48.21,1.61e-3],[48.28,0.17e-3],
  [48.34,-1.26e-3],[48.4,-2.7e-3],[48.46,-3.56e-3],[48.53,-1.55e-3],[48.59,0.46e-3],[48.65,1.03e-3],[48.71,1.61e-3],[48.77,3.04e-3],
  [48.84,2.18e-3],[48.9,1.03e-3],[48.96,0.17e-3],[49.02,-0.98e-3],[49.08,-2.12e-3],[49.14,0.46e-3],[49.21,-1.26e-3],[49.27,-2.12e-3],
  [49.33,0.46e-3],[49.39,-1.84e-3],[49.45,-2.12e-3],[49.52,-0.4e-3],[49.58,-2.12e-3],[49.64,-0.4e-3],[49.7,0.46e-3],[49.76,1.03e-3],
  [49.83,2.18e-3],[49.89,1.61e-3],[49.95,2.75e-3],[50.01,3.62e-3],[50.07,3.76e-3],[50.14,2.18e-3],[50.2,0.46e-3],[50.26,-0.4e-3],
  [50.32,-2.12e-3],[50.38,-2.7e-3],[50.45,-2.98e-3],[50.51,-1.26e-3],[50.57,-1.84e-3],[50.63,-0.11e-3],[50.69,0.46e-3],[50.76,1.61e-3],
  [50.82,1.03e-3],[50.88,0.46e-3],[50.94,2.18e-3],[51.0,2.47e-3],[51.07,1.03e-3],[51.13,-0.11e-3],[51.19,-0.69e-3],[51.25,-1.55e-3],
  [51.31,-2.7e-3],[51.38,-1.26e-3],[51.44,-0.11e-3],[51.5,2.18e-3],[51.56,2.61e-3],[51.63,2.18e-3],[51.69,1.32e-3],[51.75,-0.69e-3],
  [51.81,-1.55e-3],[51.87,-2.41e-3],[51.94,-2.12e-3],[52.0,-1.26e-3],[52.06,-0.11e-3],[52.12,1.03e-3],[52.18,0.46e-3],[52.25,2.18e-3],
  [52.31,-0.4e-3],[52.37,2.18e-3],[52.43,0.46e-3],[52.49,-0.11e-3],[52.56,1.03e-3],[52.62,0.46e-3],[52.68,1.03e-3],[52.74,-0.11e-3],
  [52.8,2.18e-3],[52.87,0.75e-3],[52.93,-0.69e-3],[52.99,1.61e-3],[53.05,-1.26e-3],[53.11,-2.41e-3],[53.18,-2.7e-3],[53.24,-3.27e-3],
  [53.3,-1.84e-3],[53.36,-0.4e-3],[53.42,0.46e-3],[53.49,1.61e-3],[53.55,2.18e-3],[53.61,2.47e-3],[53.67,1.03e-3],[53.73,-0.69e-3],
  [53.8,-1.84e-3],[53.86,0.46e-3],[53.92,1.32e-3],[53.98,2.75e-3],[54.04,2.18e-3],[54.11,2.47e-3],[54.17,1.32e-3],[54.23,1.03e-3],
  [54.29,0.46e-3],[54.35,1.03e-3],[54.42,-0.11e-3],[54.48,0.75e-3],[54.54,-0.69e-3],[54.6,-1.84e-3],[54.66,-1.26e-3],[54.73,-2.12e-3],
  [54.79,-3.41e-3],[54.85,-2.41e-3],[54.91,0.46e-3],[54.97,1.03e-3],[55.04,0.46e-3],[55.1,1.03e-3],[55.16,0.17e-3],[55.22,-0.4e-3],
  [55.28,0.46e-3],[55.35,1.03e-3],[55.41,1.61e-3],[55.47,-0.4e-3],[55.53,-0.11e-3],[55.59,-1.55e-3],[55.66,-2.12e-3],[55.72,-1.26e-3],
  [55.78,-0.11e-3],[55.84,1.03e-3],[55.9,0.46e-3],[55.97,1.03e-3],[56.03,-0.11e-3],[56.09,-0.69e-3],[56.15,-1.84e-3],[56.21,-1.55e-3],
  [56.28,0.17e-3],[56.34,1.03e-3],[56.4,1.89e-3],[56.46,2.75e-3],[56.52,3.9e-3],[56.59,2.75e-3],[56.65,1.61e-3],[56.71,1.03e-3],
  [56.77,0.46e-3],[56.83,-0.11e-3],[56.89,-2.41e-3],[56.96,-1.26e-3]
];
const velTicks = [-0.02, -0.01, 0.0, 0.01, 0.02];
const velLimit = 0.0223;

// displacement (cm), [time, value] at the turning points
const dispPoints = [
  [0.04,-0.8e-4],[0.09,0.27e-4],[0.14,-1.47e-4],[0.2,0.67e-4],[0.25,-1.0e-4],[0.31,0.2e-4],[0.38,-0.93e-4],[0.41,0.93e-4],
  [0.46,-1.27e-4],[0.5,1.4e-4],[0.56,0],[0.6,1.53e-4],[0.64,0.13e-4],[0.69,1.84e-4],[0.74,0.73e-4],[0.8,1.13e-4],
  [0.88,-0.53e-4],[0.93,1.07e-4],[0.98,-1.8e-4],[1.03,0.47e-4],[1.08,-1.2e-4],[1.13,0.53e-4],[1.19,-0.8e-4],[1.25,1.13e-4],
  [1.3,0.07e-4],[1.37,0.73e-4],[1.45,0],[1.49,0.8e-4],[1.56,0.13e-4],[1.61,-1.4e-4],[1.67,0.6e-4],[1.72,-1.33e-4],
  [1.77,0.13e-4],[1.84,0.33e-4],[1.88,-0.93e-4],[1.95,0],[2.02,-0.87e-4],[2.08,-0.07e-4],[2.13,-1.27e-4],[2.19,-0.2e-4],
  [2.27,-0.8e-4],[2.35,-1.3e-4],[2.4,0.4e-4],[2.46,1.53e-4],[2.54,0.4e-4],[2.59,2.33e-4],[2.66,2.67e-4],[2.72,1.73e-4],
  [2.77,0.87e-4],[2.86,4.13e-4],[2.93,4.07e-4],[3.01,1.6e-4],[3.07,-3.07e-4],[3.11,-6.53e-4],[3.15,-5.27e-4],[3.2,-8.2e-4],
  [3.24,-1.73e-4],[3.29,-2.27e-4],[3.35,1.31e-4],[3.4,-0.6e-4],[3.45,0.6e-4],[3.49,-1.0e-4],[3.53,-0.07e-4],[3.58,-4.27e-4],
  [3.65,-1.2e-4],[3.71,0.83e-4],[3.77,-0.93e-4],[3.82,-2.73e-4],[3.88,-5.27e-4],[3.93,-3.0e-4],[3.98,-4.47e-4],[4.02,-2.27e-4],
  [4.05,-4.07e-4],[4.1,1.0e-4],[4.16,-1.53e-4],[4.23,-1.53e-4],[4.28,0.33e-4],[4.33,2.53e-4],[4.4,3.07e-4],[4.47,6.2e-4],
  [4.53,5.0e-4],[4.57,5.67e-4],[4.62,3.2e-4],[4.67,4.93e-4],[4.71,1.2e-4],[4.77,-0.67e-4],[4.82,1.0e-4],[4.88,-0.6e-4],
  [4.94,4.93e-4],[5.0,1.6e-4],[5.05,3.2e-4],[5.09,-0.67e-4],[5.13,-1.67e-4],[5.17,1.6e-4],[5.21,0.67e-4],[5.25,2.67e-4],
  [5.3,0.93e-4],[5.34,3.0e-4],[5.4,1.8e-4],[5.47,-2.6e-4],[5.55,-3.47e-4],[5.62,-1.87e-4],[5.66,-1.4e-4],[5.72,4.73e-4],
  [5.81,5.53e-4],[5.88,0.53e-4],[5.94,-3.13e-4],[6.0,-3.87e-4],[6.04,-5.07e-4],[6.1,-3.53e-4],[6.18,4.27e-4],[6.26,5.87e-4],
  [6.32,2.0e-4],[6.4,-2.13e-4],[6.46,-2.73e-4],[6.54,-0.4e-4],[6.61,4.4e-4],[6.66,5.93e-4],[6.73,2.53e-4],[6.79,-0.4e-4],
  [6.85,0.67e-4],[6.91,-5.67e-4],[6.98,-4.6e-4],[7.02,1.6e-4],[7.08,1.8e-4],[7.14,3.07e-4],[7.22,1.73e-4],[7.28,-1.13e-4],
  [7.33,-1.8e-4],[7.39,0.93e-4],[7.45,1.16e-4],[7.51,-1.27e-4],[7.57,-0.4e-4],[7.61,-3.33e-4],[7.68,-6.4e-4],[7.75,-4.73e-4],
  [7.82,-5.27e-4],[7.88,-2.87e-4],[7.94,-0.93e-4],[8.02,0.73e-4],[8.07,2.93e-4],[8.12,0.13e-4],[8.19,1.07e-4],[8.24,-1.07e-4],
  [8.28,-4.0e-4],[8.35,-4.47e-4],[8.42,-1.8e-4],[8.48,-1.47e-4],[8.55,1.27e-4],[8.6,1.07e-4],[8.65,2.2e-4],[8.7,0.93e-4],
  [8.75,1.93e-4],[8.81,0.27e-4],[8.86,1.47e-4],[8.91,0.07e-4],[8.98,-2.73e-4],[9.06,-2.0e-4],[9.11,-3.33e-4],[9.16,0.07e-4],
  [9.21,0.13e-4],[9.25,2.53e-4],[9.31,4.33e-4],[9.37,4.47e-4],[9.45,2.13e-4],[9.5,-0.87e-4],[9.54,-3.27e-4],[9.6,-3.47e-4],
  [9.66,-3.33e-4],[9.72,1.0e-4],[9.78,1.2e-4],[9.85,2.73e-4],[9.9,2.53e-4],[9.95,2.89e-4],[10.0,0.8e-4],[10.06,-2.0e-4],
  [10.11,-2.33e-4],[10.16,-4.4e-4],[10.24,-1.27e-4],[10.3,3.53e-4],[10.36,5.2e-4],[10.42,9.0e-4],[10.49,9.17e-4],[10.55,6.27e-4],
  [10.6,0.47e-4],[10.66,0.27e-4],[10.71,-4.27e-4],[10.79,-7.13e-4],[10.86,-5.2e-4],[10.9,-3.07e-4],[10.98,2.67e-4],[11.06,6.33e-4],
  [11.11,4.53e-4],[11.17,3.53e-4],[11.22,-1.73e-4],[11.29,-3.8e-4],[11.35,-3.67e-4],[11.42,1.6e-4],[11.48,5.2e-4],[11.53,5.87e-4],
  [11.58,6.53e-4],[11.64,4.13e-4],[11.69,2.8e-4],[11.74,1.53e-4],[11.77,0.4e-4],[11.83,0.67e-4],[11.91,1.53e-4],[11.98,0.67e-4],
  [12.05,1.47e-4],[12.1,0.27e-4],[12.16,-0.93e-4],[12.22,-2.0e-4],[12.3,-3.0e-4],[12.38,-2.2e-4],[12.44,-3.07e-4],[12.5,-1.27e-4],
  [12.57,-2.27e-4],[12.63,-2.2e-4],[12.7,-3.13e-4],[12.76,-1.47e-4],[12.81,-2.33e-4],[12.87,0.13e-4],[12.95,2.53e-4],[13.0,4.53e-4],
  [13.07,4.93e-4],[13.13,5.0e-4],[13.2,3.33e-4],[13.26,0.67e-4],[13.33,-4.93e-4],[13.4,-6.13e-4],[13.45,-6.73e-4],[13.53,-3.07e-4],
  [13.62,4.93e-4],[13.7,5.53e-4],[13.76,3.47e-4],[13.83,0.93e-4],[13.91,-3.73e-4],[13.98,-5.47e-4],[14.05,-3.87e-4],[14.1,-1.33e-4],
  [14.16,0.67e-4],[14.24,1.27e-4],[14.3,0.93e-4],[14.36,1.87e-4],[14.42,2.0e-4],[14.47,2.73e-4],[14.54,1.6e-4],[14.61,-0.93e-4],
  [14.68,-3.2e-4],[14.76,-5.53e-4],[14.84,-4.8e-4],[14.96,3.6e-4],[15.03,7.2e-4],[15.08,7.27e-4],[15.15,4.67e-4],[15.21,1.87e-4],
  [15.28,-3.07e-4],[15.36,-6.27e-4],[15.43,-4.27e-4],[15.5,0.93e-4],[15.57,5.13e-4],[15.65,4.53e-4],[15.71,2.0e-4],[15.78,-1.73e-4],
  [15.83,-4.67e-4],[15.9,-4.67e-4],[15.98,-2.93e-4],[16.06,0.93e-4],[16.14,4.0e-4],[16.21,5.33e-4],[16.29,6.0e-4],[16.37,4.27e-4],
  [16.45,-0.13e-4],[16.52,-3.87e-4],[16.59,-3.87e-4],[16.67,-5.13e-4],[16.75,-4.33e-4],[16.83,-2.13e-4],[16.9,1.2e-4],[16.97,2.8e-4],
  [17.06,3.87e-4],[17.12,3.47e-4],[17.17,4.27e-4],[17.21,3.47e-4],[17.28,2.13e-4],[17.34,2.13e-4],[17.39,0.73e-4],[17.46,1.6e-4],
  [17.51,1.73e-4],[17.56,0.93e-4],[17.62,0.13e-4],[17.68,-0.27e-4],[17.77,-1.8e-4],[17.87,-1.8e-4],[17.94,-2.87e-4],[18.0,-1.47e-4],
  [18.07,-1.07e-4],[18.13,-2.0e-4],[18.19,-0.53e-4],[18.27,2.27e-4],[18.35,3.87e-4],[18.43,2.8e-4],[18.5,0.93e-4],[18.56,-0.4e-4],
  [18.63,-1.27e-4],[18.68,-0.13e-4],[18.75,0.13e-4],[18.82,2.8e-4],[18.88,4.67e-4],[18.94,4.67e-4],[19.0,0.13e-4],[19.09,-3.33e-4],
  [19.16,-4.0e-4],[19.22,-2.13e-4],[19.29,2.27e-4],[19.39,2.8e-4],[19.45,-0.4e-4],[19.51,-4.8e-4],[19.59,-5.2e-4],[19.68,-3.47e-4],
  [19.75,-1.47e-4],[19.82,-0.67e-4],[19.88,0.13e-4],[19.94,0.93e-4],[20.0,0],[20.08,-0.4e-4],[20.15,-0.93e-4],[20.22,-0.27e-4],
  [20.3,1.73e-4],[20.38,3.73e-4],[20.43,4.67e-4],[20.49,4.93e-4],[20.56,3.6e-4],[20.61,0.53e-4],[20.67,-0.13e-4],[20.72,-0.87e-4],
  [20.78,-0.33e-4],[20.84,-0.47e-4],[20.89,-2.93e-4],[20.97,-4.13e-4],[21.05,-5.53e-4],[21.1,-5.33e-4],[21.14,-6.27e-4],[21.22,-5.07e-4],
  [21.3,2.53e-4],[21.35,5.2e-4],[21.42,5.67e-4],[21.49,4.53e-4],[21.55,3.73e-4],[21.62,2.67e-4],[21.69,2.27e-4],[21.75,-0.27e-4],
  [21.81,-2.13e-4],[21.87,-3.53e-4],[21.93,-3.53e-4],[22.0,-1.47e-4],[22.06,2.8e-4],[22.13,4.4e-4],[22.2,3.33e-4],[22.27,2.4e-4],
  [22.34,0.13e-4],[22.4,-0.27e-4],[22.48,-1.73e-4],[22.54,-3.07e-4],[22.61,-3.73e-4],[22.67,-3.87e-4],[22.72,-3.93e-4],[22.79,-3.33e-4],
  [22.86,-1.73e-4],[22.92,0.13e-4],[22.99,0.4e-4],[23.05,1.07e-4],[23.11,0.13e-4],[23.15,1.07e-4],[23.22,0.13e-4],[23.29,0.67e-4],
  [23.35,1.73e-4],[23.42,3.2e-4],[23.47,3.87e-4],[23.53,3.07e-4],[23.58,3.2e-4],[23.65,2.4e-4],[23.71,0.27e-4],[23.76,-2.8e-4],
  [23.84,-4.93e-4],[23.91,-4.2e-4],[23.98,-1.07e-4],[24.06,2.53e-4],[24.13,4.0e-4],[24.21,4.87e-4],[24.28,1.6e-4],[24.34,-2.53e-4],
  [24.42,-5.33e-4],[24.52,-5.67e-4],[24.6,-3.07e-4],[24.67,2.53e-4],[24.72,5.2e-4],[24.79,6.33e-4],[24.85,4.93e-4],[24.92,0.53e-4],
  [25.0,-4.13e-4],[25.09,-5.27e-4],[25.18,-4.13e-4],[25.26,0.93e-4],[25.34,5.73e-4],[25.43,6.6e-4],[25.51,5.47e-4],[25.58,2.8e-4],
  [25.66,-1.07e-4],[25.75,-3.4e-4],[25.83,-2.4e-4],[25.89,-1.07e-4],[25.96,-0.67e-4],[26.02,-0.6e-4],[26.09,-2.4e-4],[26.15,-2.73e-4],
  [26.21,-3.6e-4],[26.29,-1.33e-4],[26.35,0.33e-4],[26.44,1.0e-4],[26.52,0],[26.6,-1.13e-4],[26.68,0.4e-4],[26.75,0.53e-4],
  [26.82,0.47e-4],[26.88,-0.53e-4],[26.95,-1.73e-4],[27.04,-2.0e-4],[27.11,-0.67e-4],[27.17,1.6e-4],[27.23,4.27e-4],[27.31,4.4e-4],
  [27.39,3.6e-4],[27.46,-0.13e-4],[27.53,-2.67e-4],[27.61,-3.13e-4],[27.69,-1.87e-4],[27.75,0.67e-4],[27.82,1.93e-4],[27.9,1.6e-4],
  [27.97,0.67e-4],[28.04,-0.07e-4],[28.12,-0.8e-4],[28.2,-0.67e-4],[28.25,-0.13e-4],[28.33,0.93e-4],[28.39,1.87e-4],[28.45,3.33e-4],
  [28.53,3.73e-4],[28.61,3.73e-4],[28.68,1.73e-4],[28.73,-0.53e-4],[28.81,-1.6e-4],[28.9,-2.6e-4],[28.98,-2.0e-4],[29.06,0.93e-4],
  [29.14,2.27e-4],[29.21,2.13e-4],[29.28,0.93e-4],[29.36,-0.13e-4],[29.42,-0.4e-4],[29.49,-2.53e-4],[29.56,-2.13e-4],[29.64,-2.53e-4],
  [29.72,-1.33e-4],[29.8,1.47e-4],[29.87,3.07e-4],[29.95,4.27e-4],[30.03,3.07e-4],[30.1,1.6e-4],[30.17,-0.13e-4],[30.24,-1.47e-4],
  [30.32,-2.4e-4],[30.39,-2.27e-4],[30.46,-0.4e-4],[30.51,1.47e-4],[30.58,1.93e-4],[30.64,1.93e-4],[30.7,0.53e-4],[30.76,-2.0e-4],
  [30.83,-3.2e-4],[30.91,-1.47e-4],[30.99,1.73e-4],[31.05,2.93e-4],[31.11,3.27e-4],[31.18,1.6e-4],[31.26,-0.67e-4],[31.32,-2.0e-4],
  [31.39,-3.2e-4],[31.47,-2.67e-4],[31.51,-1.6e-4],[31.58,-0.67e-4],[31.66,0],[31.74,0.4e-4],[31.8,0.33e-4],[31.87,0.87e-4],
  [31.95,0.53e-4],[32.02,0.73e-4],[32.1,0.13e-4],[32.18,-0.53e-4],[32.23,-1.47e-4],[32.33,-2.0e-4],[32.43,-1.33e-4],[32.48,0.27e-4],
  [32.55,1.87e-4],[32.62,2.13e-4],[32.69,1.07e-4],[32.76,-1.47e-4],[32.83,-3.6e-4],[32.91,-4.4e-4],[32.97,-4.87e-4],[33.05,-3.6e-4],
  [33.12,-2.67e-4],[33.17,-0.67e-4],[33.24,0.4e-4],[33.31,1.73e-4],[33.38,2.8e-4],[33.43,4.27e-4],[33.5,5.27e-4],[33.58,5.67e-4],
  [33.65,4.67e-4],[33.72,2.27e-4],[33.77,0.67e-4],[33.84,-0.8e-4],[33.91,-0.93e-4],[33.98,-0.8e-4],[34.04,-0.27e-4],[34.09,0],
  [34.15,-0.13e-4],[34.22,-1.2e-4],[34.28,-2.13e-4],[34.34,-1.87e-4],[34.42,-0.93e-4],[34.49,0.13e-4],[34.55,0.27e-4],[34.63,0.4e-4],
  [34.71,0.93e-4],[34.76,1.2e-4],[34.82,-0.13e-4],[34.88,-2.0e-4],[34.94,-2.53e-4],[35.01,-1.47e-4],[35.07,-0.67e-4],[35.13,1.07e-4],
  [35.21,2.27e-4],[35.27,2.67e-4],[35.35,1.73e-4],[35.42,-0.13e-4],[35.47,-1.73e-4],[35.54,-2.93e-4],[35.61,-2.67e-4],[35.67,-1.2e-4],
  [35.72,-0.27e-4],[35.78,-0.13e-4],[35.86,0.13e-4],[35.93,1.2e-4],[35.99,1.6e-4],[36.07,2.93e-4],[36.15,4.4e-4],[36.21,4.93e-4],
  [36.28,5.33e-4],[36.34,4.27e-4],[36.4,4.4e-4],[36.45,2.8e-4],[36.51,2.53e-4],[36.55,0.93e-4],[36.62,-0.67e-4],[36.67,-1.33e-4],
  [36.72,-1.47e-4],[36.78,-0.8e-4],[36.85,-0.13e-4],[36.93,-0.67e-4],[36.99,-2.4e-4],[37.05,-4.27e-4],[37.12,-4.4e-4],[37.17,-5.0e-4],
  [37.24,-4.67e-4],[37.3,-2.53e-4],[37.36,0.27e-4],[37.41,2.8e-4],[37.48,4.0e-4],[37.55,3.87e-4],[37.62,2.0e-4],[37.68,-0.4e-4],
  [37.75,-2.0e-4],[37.81,-2.47e-4],[37.89,-2.4e-4],[37.96,-1.2e-4],[38.02,-0.27e-4],[38.08,0.27e-4],[38.16,0.33e-4],[38.23,-0.4e-4],
  [38.29,-0.53e-4],[38.35,0.13e-4],[38.42,-0.27e-4],[38.49,0.4e-4],[38.56,0.6e-4],[38.64,-0.13e-4],[38.71,-0.8e-4],[38.77,-1.2e-4],
  [38.85,-0.53e-4],[38.91,-0.27e-4],[38.96,0.27e-4],[39.04,1.2e-4],[39.12,1.6e-4],[39.18,1.47e-4],[39.25,1.4e-4],[39.31,0.4e-4],
  [39.38,-0.13e-4],[39.44,-1.2e-4],[39.52,-2.8e-4],[39.58,-3.73e-4],[39.65,-4.53e-4],[39.71,-5.07e-4],[39.77,-4.53e-4],[39.83,-4.27e-4],
  [39.9,-2.4e-4],[39.97,-0.4e-4],[40.04,1.73e-4],[40.11,3.07e-4],[40.19,3.73e-4],[40.26,3.07e-4],[40.31,1.73e-4],[40.36,-0.4e-4],
  [40.43,-0.6e-4],[40.48,-0.53e-4],[40.54,0.4e-4],[40.59,0.93e-4],[40.65,1.2e-4],[40.7,0.8e-4],[40.77,0.67e-4],[40.84,-0.4e-4],
  [40.91,-2.0e-4],[40.98,-2.13e-4],[41.04,-2.6e-4],[41.1,-1.6e-4],[41.17,0.13e-4],[41.25,1.07e-4],[41.32,1.27e-4],[41.39,0.67e-4],
  [41.46,-0.4e-4],[41.52,-1.07e-4],[41.57,-1.13e-4],[41.65,-0.27e-4],[41.73,2.0e-4],[41.8,4.13e-4],[41.87,5.33e-4],[41.97,5.4e-4],
  [42.03,4.27e-4],[42.09,2.4e-4],[42.16,0.67e-4],[42.23,0.4e-4],[42.3,1.07e-4],[42.37,2.53e-4],[42.44,2.67e-4],[42.51,3.2e-4],
  [42.59,2.53e-4],[42.65,0.4e-4],[42.71,-0.8e-4],[42.77,-1.6e-4],[42.83,-2.0e-4],[42.9,-1.73e-4],[42.98,-0.4e-4],[43.05,0.93e-4],
  [43.12,2.0e-4],[43.2,2.13e-4],[43.24,0.93e-4],[43.3,-0.4e-4],[43.35,-2.8e-4],[43.43,-4.4e-4],[43.5,-5.2e-4],[43.55,-5.4e-4],
  [43.62,-3.73e-4],[43.68,-1.07e-4],[43.74,-0.27e-4],[43.81,0.33e-4],[43.87,-0.27e-4],[43.93,-0.4e-4],[44.02,0],[44.08,0.8e-4],
  [44.15,2.0e-4],[44.22,2.07e-4],[44.3,1.6e-4],[44.36,0.4e-4],[44.43,-0.53e-4],[44.49,-1.47e-4],[44.56,-1.47e-4],[44.61,-1.07e-4],
  [44.7,-0.29e-4],[44.79,0.16e-4],[44.85,0.27e-4],[44.92,-0.07e-4],[44.99,-0.62e-4],[45.08,-1.07e-4],[45.15,-1.51e-4],[45.22,-2.51e-4],
  [45.28,-3.18e-4],[45.37,-3.07e-4],[45.47,-2.73e-4],[45.56,-1.29e-4],[45.62,0.38e-4],[45.69,1.6e-4],[45.78,1.82e-4],[45.85,2.6e-4],
  [45.94,2.93e-4],[46.03,2.04e-4],[46.1,1.38e-4],[46.16,1.16e-4],[46.21,0.27e-4],[46.29,-0.62e-4],[46.37,-0.73e-4],[46.43,-0.84e-4],
  [46.5,-1.4e-4],[46.57,-0.4e-4],[46.64,-0.18e-4],[46.7,0.16e-4],[46.77,0.6e-4],[46.82,0.16e-4],[46.88,0.49e-4],[46.96,-0.07e-4],
  [47.03,-1.07e-4],[47.1,-1.62e-4],[47.18,-0.84e-4],[47.24,-0.18e-4],[47.32,-0.07e-4],[47.39,0.04e-4],[47.45,0.49e-4],[47.52,1.16e-4],
  [47.57,2.04e-4],[47.63,2.44e-4],[47.71,2.71e-4],[47.79,2.58e-4],[47.84,1.6e-4],[47.9,0.38e-4],[47.97,-0.07e-4],[48.04,0.27e-4],
  [48.11,0.6e-4],[48.18,0.93e-4],[48.25,1.33e-4],[48.31,1.27e-4],[48.38,0.49e-4],[48.45,-0.84e-4],[48.51,-1.4e-4],[48.58,-1.51e-4],
  [48.65,-0.96e-4],[48.73,0.04e-4],[48.78,0.93e-4],[48.83,1.82e-4],[48.9,2.22e-4],[48.99,2.27e-4],[49.06,1.93e-4],[49.12,1.38e-4],
  [49.19,0.71e-4],[49.26,0.49e-4],[49.32,0.27e-4],[49.38,-0.4e-4],[49.42,-1.07e-4],[49.49,-1.84e-4],[49.56,-2.29e-4],[49.62,-2.51e-4],
  [49.71,-2.4e-4],[49.77,-2.18e-4],[49.85,-0.84e-4],[49.91,-0.4e-4],[49.95,0.49e-4],[50.03,1.38e-4],[50.09,2.71e-4],[50.14,3.49e-4],
  [50.21,3.71e-4],[50.27,3.27e-4],[50.34,2.6e-4],[50.41,0.71e-4],[50.46,-0.84e-4],[50.52,-2.29e-4],[50.59,-3.18e-4],[50.68,-3.51e-4],
  [50.75,-3.07e-4],[50.81,-2.29e-4],[50.89,-1.4e-4],[50.96,-0.62e-4],[51.02,0.49e-4],[51.09,1.38e-4],[51.16,1.71e-4],[51.22,1.27e-4],
  [51.29,0.93e-4],[51.36,-0.18e-4],[51.42,-0.84e-4],[51.49,-0.84e-4],[51.56,0.04e-4],[51.63,0.93e-4],[51.7,1.71e-4],[51.77,1.49e-4],
  [51.83,1.38e-4],[51.9,0.49e-4],[51.96,-0.62e-4],[52.03,-1.4e-4],[52.1,-1.51e-4],[52.18,-1.62e-4],[52.24,-1.29e-4],[52.3,-0.51e-4],
  [52.38,0.16e-4],[52.44,0.71e-4],[52.51,1.16e-4],[52.6,1.33e-4],[52.69,1.16e-4],[52.76,0.82e-4],[52.83,1.38e-4],[52.9,2.16e-4],
  [52.96,2.38e-4],[53.04,2.53e-4],[53.1,2.49e-4],[53.17,0.93e-4],[53.23,-1.29e-4],[53.3,-3.07e-4],[53.35,-3.4e-4],[53.42,-3.51e-4],
  [53.5,-2.4e-4],[53.57,-1.29e-4],[53.62,-0.4e-4],[53.69,0.16e-4],[53.75,-0.29e-4],[53.82,-1.07e-4],[53.89,-1.73e-4],[53.96,-1.84e-4],
  [54.02,-0.84e-4],[54.09,0.16e-4],[54.16,1.16e-4],[54.23,2.16e-4],[54.32,2.6e-4],[54.41,2.64e-4],[54.47,2.49e-4],[54.54,2.04e-4],
  [54.61,1.38e-4],[54.68,0.49e-4],[54.74,-0.4e-4],[54.8,-1.29e-4],[54.86,-1.62e-4],[54.92,-1.84e-4],[55.0,-1.51e-4],[55.07,-1.07e-4],
  [55.13,-0.8e-4],[55.22,-0.73e-4],[55.31,-0.62e-4],[55.38,-0.18e-4],[55.45,0.38e-4],[55.52,0.04e-4],[55.58,-0.62e-4],[55.65,-1.07e-4],
  [55.72,-1.51e-4],[55.78,-1.62e-4],[55.85,-1.07e-4],[55.92,-0.62e-4],[55.97,-0.18e-4],[56.03,-0.18e-4],[56.1,-0.51e-4],[56.17,-0.73e-4],
  [56.23,-1.07e-4],[56.3,-1.4e-4],[56.35,-1.4e-4],[56.41,-0.84e-4],[56.47,0.04e-4],[56.53,2.04e-4],[56.59,3.82e-4],[56.67,4.49e-4],
  [56.73,4.82e-4],[56.78,4.71e-4],[56.85,4.04e-4],[56.91,2.71e-4],[56.98,0.93e-4]
];
const dispTicks = [-0.001, -0.0005, 0.0, 0.0005, 0.001];
const dispLimit = 0.001;

document.addEventListener('DOMContentLoaded', () => {
    const width = 3600, height = 2400;
    const left = 329, right = 3554;
    const plotW = right - left, plotH = 576;
    const font = "'DejaVu Sans', sans-serif";
    const tickFont = 41.7, labelFont = 58.3;
    const tickLen = 14.6, tickPad = 14.6, thin = 3.3;

    const accPoints = accValues.map((v, i) => [i * accDt, v]);

    const panels = [
        { top: 82, label: "Acceleration (cm/s/s)", color: "#000000", data: accPoints,
          limit: accLimit, ticks: accTicks, fmt: d3.format(".1f") },
        { top: 860, label: "Velocity (cm/s)", color: "#0000ff", data: velPoints,
          limit: velLimit, ticks: velTicks, fmt: d3.format(".2f") },
        { top: 1639, label: "Displacement (cm)", color: "#ff0000", data: dispPoints,
          limit: dispLimit, ticks: dispTicks, fmt: d3.format(".4f") }
    ];

    const svg = d3.select("#chart").append("svg")
        .attr("width", width)
        .attr("height", height)
        .attr("viewBox", `0 0 ${width} ${height}`);

    svg.append("rect").attr("width", width).attr("height", height).attr("fill", "#fff");

    const x = d3.scaleLinear().domain([0, timeMax]).range([0, plotW]);

    panels.forEach((p, idx) => {
        const y = d3.scaleLinear().domain([-p.limit, p.limit]).range([plotH, 0]);
        const g = svg.append("g").attr("transform", `translate(${left},${p.top})`);

        // grid
        const grid = g.append("g").attr("stroke", "#b0b0b0").attr("stroke-width", thin);
        grid.selectAll("line.gx").data(timeTicks).enter().append("line")
            .attr("x1", d => x(d)).attr("x2", d => x(d))
            .attr("y1", 0).attr("y2", plotH);
        grid.selectAll("line.gy").data(p.ticks).enter().append("line")
            .attr("x1", 0).attr("x2", plotW)
            .attr("y1", d => y(d)).attr("y2", d => y(d));

        // trace
        const clipId = "clip" + idx;
        g.append("clipPath").attr("id", clipId)
            .append("rect").attr("width", plotW).attr("height", plotH);

        const line = d3.line().x(d => x(d[0])).y(d => y(d[1]));
        g.append("path")
            .datum(p.data)
            .attr("clip-path", `url(#${clipId})`)
            .attr("fill", "none")
            .attr("stroke", p.color)
            .attr("stroke-width", 5.8)
            .attr("stroke-linejoin", "round")
            .attr("d", line);

        // frame
        g.append("rect")
            .attr("width", plotW).attr("height", plotH)
            .attr("fill", "none").attr("stroke", "#000").attr("stroke-width", thin);

        // axes
        const xAxis = g.append("g").attr("transform", `translate(0,${plotH})`)
            .call(d3.axisBottom(x).tickValues(timeTicks).tickFormat(d3.format("d"))
                .tickSize(tickLen).tickPadding(tickPad).tickSizeOuter(0));
        const yAxis = g.append("g")
            .call(d3.axisLeft(y).tickValues(p.ticks).tickFormat(p.fmt)
                .tickSize(tickLen).tickPadding(tickPad).tickSizeOuter(0));

        [xAxis, yAxis].forEach(a => {
            a.select(".domain").remove();
            a.selectAll(".tick line").attr("stroke", "#000").attr("stroke-width", thin);
            a.selectAll(".tick text")
                .attr("fill", "#000")
                .style("font-family", font)
                .style("font-size", tickFont + "px");
        });
        yAxis.selectAll(".tick text").attr("dy", "0.36em");

        // labels
        g.append("text")
            .attr("x", plotW / 2)
            .attr("y", plotH + 133)
            .attr("text-anchor", "middle")
            .style("font-family", font)
            .style("font-size", labelFont + "px")
            .attr("fill", "#000")
            .text("Time (s)");

        const box = yAxis.node().getBBox();
        const lx = box.x - 16.7 - 34;
        g.append("text")
            .attr("transform", `translate(${lx},${plotH / 2}) rotate(-90)`)
            .attr("text-anchor", "middle")
            .attr("dominant-baseline", "central")
            .style("font-family", font)
            .style("font-size", labelFont + "px")
            .attr("fill", "#000")
            .text(p.label);
    });
});
</script>
</body>
</html>
